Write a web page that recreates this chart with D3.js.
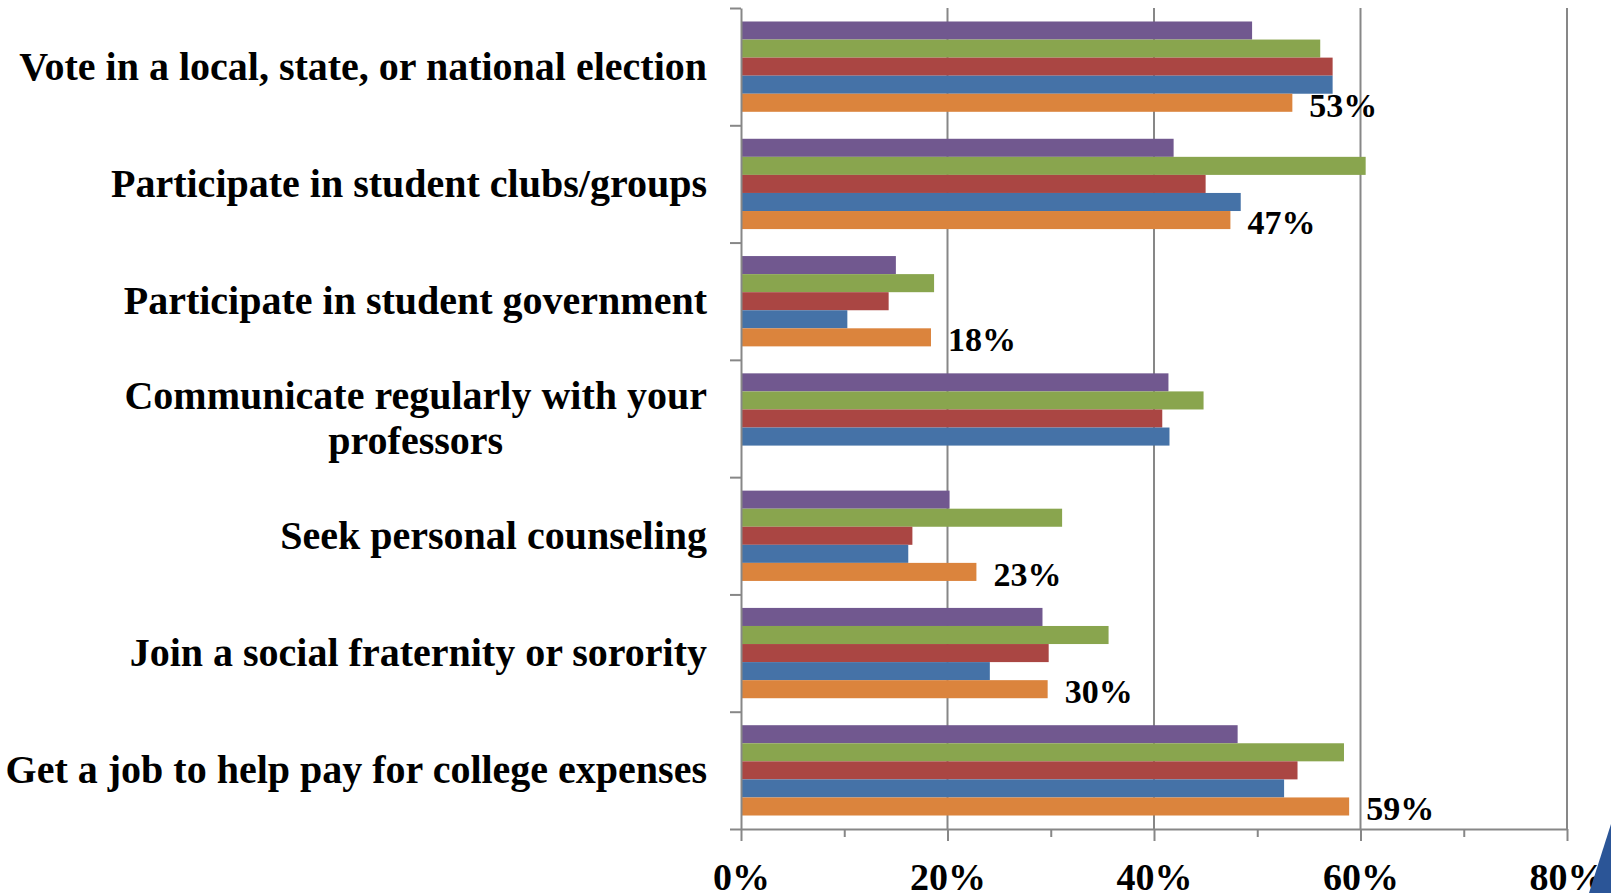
<!DOCTYPE html>
<html>
<head>
<meta charset="utf-8">
<script src="https://cdn.jsdelivr.net/npm/d3@7"></script>
<style>
  body { margin: 0; background: #fff; }
  svg { display: block; }
  text { font-family: "Liberation Serif", "Times New Roman", serif; font-weight: bold; fill: #000; }
</style>
</head>
<body>
<div id="viz-container"></div>
<script>
// categories, top to bottom
var categories = [
    "Vote in a local, state, or national election",
    "Participate in student clubs/groups",
    "Participate in student government",
    "Communicate regularly with your professors",
    "Seek personal counseling",
    "Join a social fraternity or sorority",
    "Get a job to help pay for college expenses"
];

// one array per series, in the order the bars stack inside each group (top first)
var seriesKeys   = ["s1", "s2", "s3", "s4", "s5"];
var seriesColors = ["#71588f", "#89a54e", "#aa4643", "#4572a7", "#db843d"];
var s1 = [49.5, 41.9, 15.0, 41.4, 20.2, 29.2, 48.1];
var s2 = [56.1, 60.5, 18.7, 44.8, 31.1, 35.6, 58.4];
var s3 = [57.3, 45.0, 14.3, 40.8, 16.6, 29.8, 53.9];
var s4 = [57.3, 48.4, 10.3, 41.5, 16.2, 24.1, 52.6];
var s5 = [53.4, 47.4, 18.4, null, 22.8, 29.7, 58.9];
var seriesValues = [s1, s2, s3, s4, s5];
var labelledSeries = "s5";

var xTicks = [0, 20, 40, 60, 80];
var xMinorTicks = [10, 30, 50, 70];

var width = 1611, height = 893;
var plotLeft = 741, plotRight = 1567, plotTop = 8, plotBottom = 829;

var svg = d3.select("#viz-container").append("svg")
    .attr("width", width)
    .attr("height", height);

var x = d3.scaleLinear().domain([0, 80]).range([plotLeft, plotRight]);
var y = d3.scaleBand().domain(categories).range([plotTop, plotBottom])
    .paddingInner(0.23).paddingOuter(0.115);
var ySub = d3.scaleBand().domain(seriesKeys).range([0, y.bandwidth()]);
var color = d3.scaleOrdinal().domain(seriesKeys).range(seriesColors);

var axisColor = "#878787";

// vertical gridlines
svg.append("g").selectAll("line")
    .data(xTicks.filter(function(d) { return d > 0; }))
    .enter().append("line")
    .attr("x1", function(d) { return x(d); })
    .attr("x2", function(d) { return x(d); })
    .attr("y1", plotTop)
    .attr("y2", plotBottom)
    .style("stroke", axisColor)
    .style("stroke-width", 2);

// bars
var rows = [];
categories.forEach(function(cat, i) {
    seriesKeys.forEach(function(key, j) {
        rows.push({ cat: cat, key: key, value: seriesValues[j][i] });
    });
});

svg.append("g").selectAll("rect")
    .data(rows.filter(function(d) { return d.value != null; }))
    .enter().append("rect")
    .attr("x", x(0))
    .attr("y", function(d) { return y(d.cat) + ySub(d.key); })
    .attr("width", function(d) { return x(d.value) - x(0); })
    .attr("height", ySub.bandwidth())
    .style("fill", function(d) { return color(d.key); });

// data labels on the last series only
svg.append("g").selectAll("text")
    .data(rows.filter(function(d) { return d.key == labelledSeries && d.value != null; }))
    .enter().append("text")
    .attr("x", function(d) { return x(d.value) + 17; })
    .attr("y", function(d) { return y(d.cat) + ySub(d.key) + ySub.bandwidth() / 2 + 14; })
    .style("font-size", "34px")
    .text(function(d) { return Math.round(d.value) + "%"; });

// x axis: major ticks with labels, minor ticks without
var xAxis = svg.append("g")
    .attr("transform", "translate(0," + plotBottom + ")")
    .call(d3.axisBottom(x).tickValues(xTicks)
        .tickFormat(function(d) { return d + "%"; })
        .tickSize(12).tickPadding(22).tickSizeOuter(0));
xAxis.selectAll("text").style("font-size", "38px").style("font-family", null);

var xMinor = svg.append("g")
    .attr("transform", "translate(0," + plotBottom + ")")
    .call(d3.axisBottom(x).tickValues(xMinorTicks).tickFormat("").tickSize(8).tickSizeOuter(0));
xMinor.select(".domain").remove();

// y axis: ticks on the category boundaries
var yBound = d3.scaleLinear().domain([0, categories.length]).range([plotTop, plotBottom]);
svg.append("g")
    .attr("transform", "translate(" + plotLeft + ",0)")
    .call(d3.axisLeft(yBound).ticks(categories.length).tickFormat("").tickSize(11).tickSizeOuter(0));

svg.selectAll(".domain, .tick line")
    .style("stroke", axisColor)
    .style("stroke-width", 2);
svg.selectAll(".tick text").attr("fill", "#000");

// category labels, wrapped like the spreadsheet does
var labelRight = 707, maxLabelWidth = 730, lineGap = 44.5;
var labels = svg.append("g");
categories.forEach(function(cat) {
    var t = labels.append("text").style("font-size", "40px").attr("text-anchor", "middle");
    var words = cat.split(" "), lines = [], line = [];
    var probe = labels.append("text").style("font-size", "40px");
    words.forEach(function(w) {
        line.push(w);
        probe.text(line.join(" "));
        if (probe.node().getComputedTextLength() > maxLabelWidth && line.length > 1) {
            line.pop();
            lines.push(line.join(" "));
            line = [w];
        }
    });
    lines.push(line.join(" "));
    var widest = 0;
    lines.forEach(function(l) {
        probe.text(l);
        widest = Math.max(widest, probe.node().getComputedTextLength());
    });
    probe.remove();
    var cx = labelRight - widest / 2;
    var cy = y(cat) + y.bandwidth() / 2 - (lines.length - 1) * lineGap / 2;
    lines.forEach(function(l, k) {
        t.append("tspan").attr("x", cx).attr("y", cy + k * lineGap + 13).text(l);
    });
});

// slide decoration in the bottom right corner
svg.append("path")
    .attr("d", "M1611,824 L1589,893 L1611,893 Z")
    .style("fill", "#2b5597");
</script>
</body>
</html>
